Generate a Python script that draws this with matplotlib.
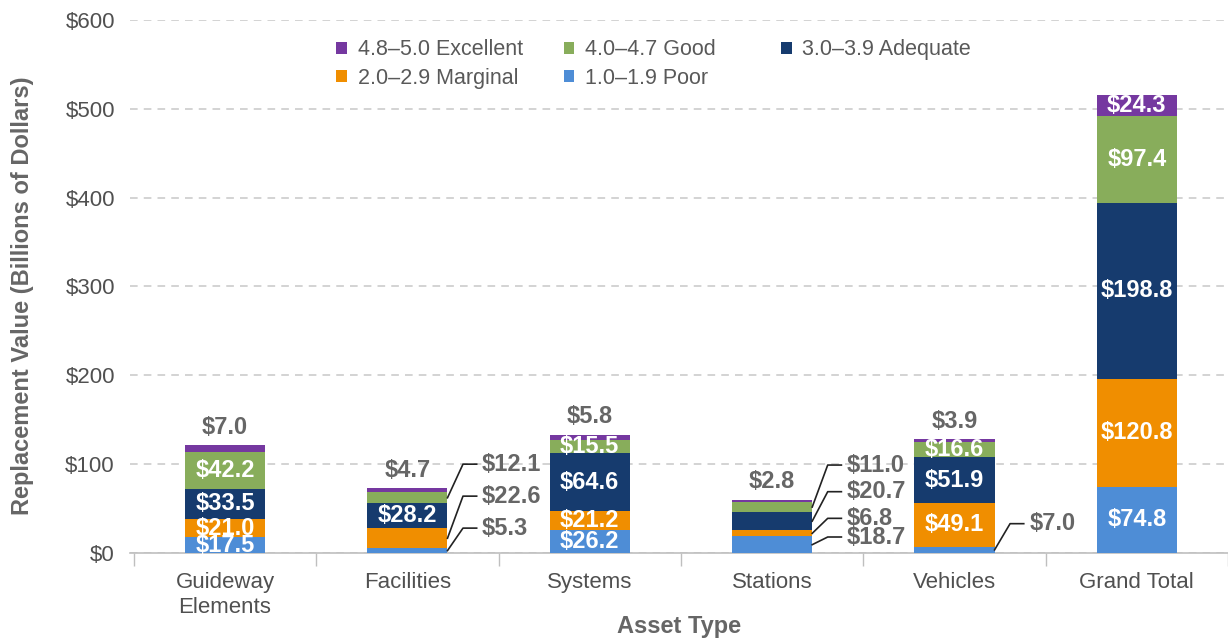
import matplotlib as mpl
mpl.use('Agg')
import matplotlib.pyplot as plt
import numpy as np

plt.rcParams['font.family'] = ['Liberation Sans', 'DejaVu Sans']

# Replacement value by asset type and condition rating (billions of dollars)
categories = ['Guideway\nElements', 'Facilities', 'Systems', 'Stations', 'Vehicles', 'Grand Total']
ratings = {
    'excellent': '4.8\u20135.0 Excellent',
    'good': '4.0\u20134.7 Good',
    'adequate': '3.0\u20133.9 Adequate',
    'marginal': '2.0\u20132.9 Marginal',
    'poor': '1.0\u20131.9 Poor',
}
poor      = [17.5, 5.3, 26.2, 18.7, 7.0, 74.8]
marginal  = [21.0, 22.6, 21.2, 6.8, 49.1, 120.8]
adequate  = [33.5, 28.2, 64.6, 20.7, 51.9, 198.8]
good      = [42.2, 12.1, 15.5, 11.0, 16.6, 97.4]
excellent = [7.0, 4.7, 5.8, 2.8, 3.9, 24.3]

colors = {
    'excellent': '#7538A0',
    'good': '#88AD5B',
    'adequate': '#163B6E',
    'marginal': '#F08E00',
    'poor': '#4E8DD6',
}
gray = '#666666'

# where each value label goes: 'in' = white inside the segment,
# 'top' = above the bar, ('out', y) = to the right with a leader line
placement = {
    'poor':      ['in', ('out', 28), 'in', ('out', 18), ('out', 33), 'in'],
    'marginal':  ['in', ('out', 64), 'in', ('out', 39), 'in', 'in'],
    'adequate':  ['in', 'in', 'in', ('out', 69), 'in', 'in'],
    'good':      ['in', ('out', 100), 'in', ('out', 99), 'in', 'in'],
    'excellent': ['top', 'top', 'top', 'top', 'top', 'in'],
}

series = [('poor', poor), ('marginal', marginal), ('adequate', adequate),
          ('good', good), ('excellent', excellent)]

fig = plt.figure(figsize=(12.28, 6.39), dpi=100)
ax = fig.add_axes([0.106, 0.1346, 0.894, 0.8341])

x = np.arange(len(categories))
width = 0.44
bottom = np.zeros(len(categories))
handles = {}
for key, vals in series:
    vals = np.array(vals)
    bars = ax.bar(x, vals, width, bottom=bottom, color=colors[key], zorder=3)
    handles[key] = bars
    for i, v in enumerate(vals):
        mid = bottom[i] + v / 2
        p = placement[key][i]
        txt = '$%.1f' % v
        if p == 'in':
            ax.text(x[i], mid, txt, ha='center', va='center', color='white',
                    fontsize=17, fontweight='bold', zorder=4)
        elif p == 'top':
            ax.text(x[i], bottom[i] + v + 20, txt, ha='center', va='center',
                    color=gray, fontsize=17, fontweight='bold', zorder=4)
        else:
            ly = p[1]
            xr = x[i] + width / 2
            ax.plot([xr, xr + 0.085, xr + 0.16], [mid, ly, ly], color='#222222',
                    lw=1.2, zorder=4, clip_on=False)
            ax.text(xr + 0.19, ly, txt, ha='left', va='center', color=gray,
                    fontsize=17, fontweight='bold', zorder=4)
    bottom += vals

ax.set_xlim(-0.52, 5.49)
ax.set_ylim(0, 600)
ax.set_yticks(np.arange(0, 601, 100))
ax.set_yticklabels(['$%d' % v for v in range(0, 601, 100)])
ax.yaxis.grid(True, color='#c8c8c8', ls=(0, (5, 4)), lw=1.1, zorder=0)
ax.set_xticks(x)
ax.set_xticklabels(categories)
ax.set_xticks(np.arange(-0.5, 5.6, 1), minor=True)
ax.tick_params(axis='x', which='major', length=0, pad=14, labelsize=16, labelcolor='#505050')
ax.tick_params(axis='x', which='minor', length=9, color='#bfbfbf', width=1)
ax.tick_params(axis='y', length=0, pad=11, labelsize=16, labelcolor='#505050')
for s in ['top', 'right', 'left']:
    ax.spines[s].set_visible(False)
ax.spines['bottom'].set_color('#bfbfbf')
ax.spines['bottom'].set_linewidth(1.2)

ax.set_ylabel('Replacement Value (Billions of Dollars)', fontsize=17,
              fontweight='bold', color=gray)
ax.yaxis.set_label_coords(-0.088, 0.482)
ax.set_xlabel('Asset Type', fontsize=17, fontweight='bold', color=gray, labelpad=-2)

# legend fills column-wise; this order reads row-wise as Excellent, Good, Adequate / Marginal, Poor
order = ['excellent', 'marginal', 'good', 'poor', 'adequate']
labels = [ratings[k] for k in order]
labels[2] = labels[2] + '    '
leg = ax.legend([handles[k] for k in order], labels, ncol=3,
                loc='upper left', bbox_to_anchor=(0.17, 1.0), frameon=False,
                fontsize=15.5, handlelength=0.5, handleheight=0.5, handletextpad=0.5,
                columnspacing=1.9, labelspacing=0.35)
for t in leg.get_texts():
    t.set_color('#595959')

fig.savefig('out.png', dpi=100)
